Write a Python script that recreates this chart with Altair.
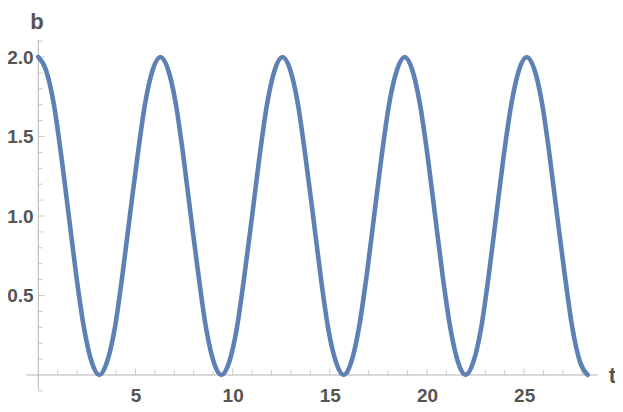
import altair as alt
import pandas as pd

# curve samples (b vs t)
t_vals = [0, 0.39, 0.79, 1.18, 1.57, 1.96, 2.36, 2.75, 3.14, 3.53, 3.93, 4.32, 4.71, 5.11, 5.50, 5.89,
          6.28, 6.68, 7.07, 7.46, 7.85, 8.25, 8.64, 9.03, 9.42, 9.82, 10.21, 10.60, 11.00, 11.39, 11.78, 12.17,
          12.57, 12.96, 13.35, 13.74, 14.14, 14.53, 14.92, 15.32, 15.71, 16.10, 16.49, 16.89, 17.28, 17.67, 18.06, 18.46,
          18.85, 19.24, 19.63, 20.03, 20.42, 20.81, 21.21, 21.60, 21.99, 22.38, 22.78, 23.17, 23.56, 23.95, 24.35, 24.74,
          25.13, 25.53, 25.92, 26.31, 26.70, 27.10, 27.49, 27.88, 28.27]
b_vals = [2, 1.92, 1.71, 1.38, 1, 0.62, 0.29, 0.08, 0, 0.08, 0.29, 0.62, 1, 1.38, 1.71, 1.92,
          2, 1.92, 1.71, 1.38, 1, 0.62, 0.29, 0.08, 0, 0.08, 0.29, 0.62, 1, 1.38, 1.71, 1.92,
          2, 1.92, 1.71, 1.38, 1, 0.62, 0.29, 0.08, 0, 0.08, 0.29, 0.62, 1, 1.38, 1.71, 1.92,
          2, 1.92, 1.71, 1.38, 1, 0.62, 0.29, 0.08, 0, 0.08, 0.29, 0.62, 1, 1.38, 1.71, 1.92,
          2, 1.92, 1.71, 1.38, 1, 0.62, 0.29, 0.08, 0]

x_major = [5, 10, 15, 20, 25]
x_minor = [1, 2, 3, 4, 6, 7, 8, 9, 11, 12, 13, 14, 16, 17, 18, 19, 21, 22, 23, 24, 26, 27, 28]
y_major = [0.5, 1.0, 1.5, 2.0]
y_minor = [-0.1, 0.1, 0.2, 0.3, 0.4, 0.6, 0.7, 0.8, 0.9, 1.1, 1.2, 1.3, 1.4, 1.6, 1.7, 1.8, 1.9, 2.1]

x_domain = [-0.633, 28.8]
y_domain = [-0.107, 2.107]

AX = "#b4b4b4"
LAB = "#555555"
FONT = "Liberation Sans"

xs = alt.Scale(domain=x_domain, zero=False, nice=False)
ys = alt.Scale(domain=y_domain, zero=False, nice=False)

x_axis = alt.Axis(
    values=x_major, format="d", orient="bottom", offset=-17,
    domain=False, ticks=False, tickSize=0, grid=False,
    labelPadding=11, labelFont=FONT, labelFontSize=19, labelFontWeight="bold",
    labelColor=LAB, labelFlush=False,
    title="t", titleFont=FONT, titleFontSize=22, titleFontWeight="bold", titleColor=LAB,
    titleX=586, titleY=0, titleAlign="center", titleBaseline="middle", titleAngle=0)
y_axis = alt.Axis(
    values=y_major, format=".1f", orient="left", offset=-12.2,
    domain=False, ticks=False, tickSize=0, grid=False,
    labelPadding=5, labelFont=FONT, labelFontSize=19, labelFontWeight="bold",
    labelColor=LAB, labelFlush=False,
    title="b", titleFont=FONT, titleFontSize=22, titleFontWeight="bold", titleColor=LAB,
    titleX=-1.8, titleY=-12, titleAlign="center", titleBaseline="alphabetic", titleAngle=0)

curve_df = pd.DataFrame({"t": t_vals, "b": b_vals})

curve = alt.Chart(curve_df).mark_line(
    color="#5E81B5", strokeWidth=4.6, interpolate="monotone", strokeCap="round"
).encode(
    x=alt.X("t:Q", scale=xs, axis=x_axis),
    y=alt.Y("b:Q", scale=ys, axis=y_axis),
)

# axis lines
xline = alt.Chart(pd.DataFrame({"t": [x_domain[0]], "t2": [x_domain[1]], "b": [0]})).mark_rule(
    color=AX, strokeWidth=1).encode(
    x=alt.X("t:Q", scale=xs, axis=x_axis), x2="t2:Q", y=alt.Y("b:Q", scale=ys, axis=y_axis))
yline = alt.Chart(pd.DataFrame({"b": [-0.1], "b2": [y_domain[1]], "t": [0]})).mark_rule(
    color=AX, strokeWidth=1).encode(
    y=alt.Y("b:Q", scale=ys, axis=y_axis), y2="b2:Q", x=alt.X("t:Q", scale=xs, axis=x_axis))


def xticks(vals, size):
    df = pd.DataFrame({"t": vals, "b": [0] * len(vals)})
    return alt.Chart(df).mark_tick(orient="vertical", size=size, thickness=1, yOffset=-size / 2,
                                   color=AX).encode(
        x=alt.X("t:Q", scale=xs, axis=x_axis), y=alt.Y("b:Q", scale=ys, axis=y_axis))


def yticks(vals, size):
    df = pd.DataFrame({"b": vals, "t": [0] * len(vals)})
    return alt.Chart(df).mark_tick(orient="horizontal", size=size, thickness=1, xOffset=size / 2,
                                   color=AX).encode(
        y=alt.Y("b:Q", scale=ys, axis=y_axis), x=alt.X("t:Q", scale=xs, axis=x_axis))


chart = alt.layer(
    xline, yline,
    xticks(x_minor, 4.5), xticks(x_major, 6.5),
    yticks(y_minor, 4.5), yticks(y_major, 6.5),
    curve,
).properties(
    width=572, height=352,
    autosize=alt.AutoSizeParams(type="none"),
    padding={"left": 18, "top": 32, "right": 17, "bottom": 12},
    background="white",
).configure_view(stroke=None)

chart.save("out.html", embed_options={"renderer": "svg", "actions": False})
